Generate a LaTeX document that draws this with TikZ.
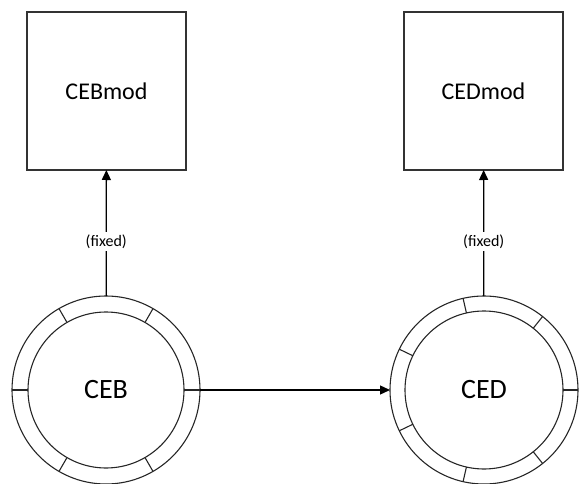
\documentclass[tikz,border=0pt]{standalone}
\usepackage{fontspec}
\setmainfont{Carlito}
\usetikzlibrary{arrows.meta,calc}
\begin{document}
\begin{tikzpicture}[x=1pt,y=-1pt,
  every node/.style={inner sep=0pt,outer sep=0pt},
  modbox/.style={draw=black!80,line width=1.1pt,minimum width=159pt,minimum height=158pt,font=\fontsize{24}{28}\selectfont},
  ring/.style={draw=black!85,line width=1.1pt,circle,minimum size=188pt,font=\fontsize{28}{32}\selectfont},
  conn/.style={line width=1.3pt,-{Triangle[length=10pt,width=9pt]}},
  lbl/.style={fill=white,inner sep=2.5pt,font=\fontsize{16}{19}\selectfont}]
\useasboundingbox (0,0) rectangle (579,484);
\node[modbox] (cebmod) at (106.5,91) {CEBmod};
\node[modbox] (cedmod) at (483.5,91) {CEDmod};
\node[ring] (ceb) at (106,390) {CEB};
\node[ring] (ced) at (484,390) {CED};
\draw[black!85,line width=1.1pt] (ceb.center) circle[radius=78];
\draw[black!85,line width=1.1pt] (ced.center) circle[radius=79];
\foreach \a in {0,60,...,300}
  \draw[black!85,line width=1.1pt] ($(ceb.center)+(\a:78)$) -- ($(ceb.center)+(\a:94)$);
\foreach \i in {0,...,6}
  \draw[black!85,line width=1.1pt] ($(ced.center)+({\i*360/7}:79)$) -- ($(ced.center)+({\i*360/7}:94)$);
\draw[conn] (ceb) -- (ced);
\draw[conn] (ceb) -- (cebmod) node[lbl,pos=0.43] {(fixed)};
\draw[conn] (ced) -- (cedmod) node[lbl,pos=0.43] {(fixed)};
\end{tikzpicture}
\end{document}
